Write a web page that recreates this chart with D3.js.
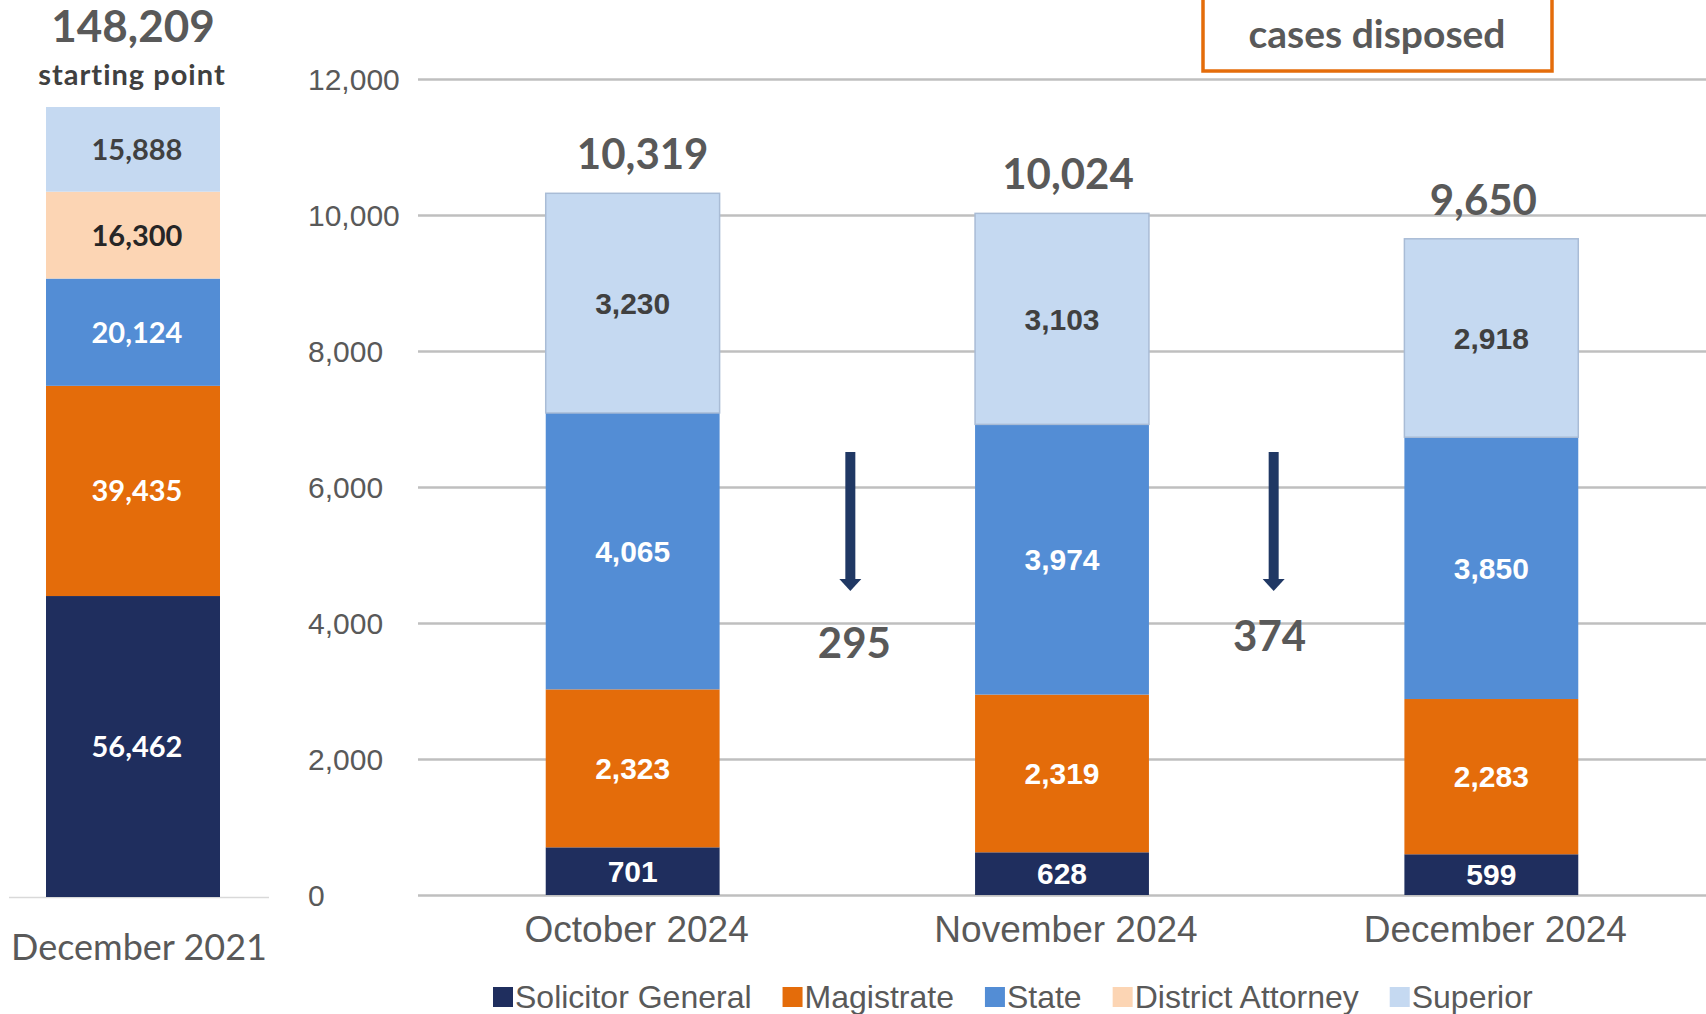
<!DOCTYPE html>
<html>
<head>
<meta charset="utf-8">
<script src="https://cdn.jsdelivr.net/npm/d3@7"></script>
<style>
    body { margin: 0; background: #fff; }
    svg { display: block; }
</style>
</head>
<body>
<svg width="1706" height="1014"></svg>
<script>
// Chart data
var months = ["October 2024", "November 2024", "December 2024"];
var seriesNames = ["Solicitor General", "Magistrate", "State", "District Attorney", "Superior"];
var seriesColors = ["#1F2E5E", "#E46C0A", "#538DD5", "#FCD5B4", "#C5D9F1"];
var labelColors = ["#ffffff", "#ffffff", "#ffffff", "#262626", "#404040"];
var solicitorGeneral = [701, 628, 599];
var magistrate = [2323, 2319, 2283];
var state = [4065, 3974, 3850];
var districtAttorney = [0, 0, 0];
var superior = [3230, 3103, 2918];
var startLabel = "December 2021";
var startValues = [56462, 39435, 20124, 16300, 15888];
var yTicks = [0, 2000, 4000, 6000, 8000, 10000, 12000];

var svg = d3.select("svg"),
    width = +svg.attr("width"),
    height = +svg.attr("height");

var grey = "#595959";
var calibriLike = "Lato, 'Open Sans', sans-serif";
var arialLike = "'Liberation Sans', Arial, sans-serif";
var fmt = d3.format(",");

// build table rows for the stack
var rows = months.map(function (m, i) {
    return {
        month: m,
        "Solicitor General": solicitorGeneral[i],
        "Magistrate": magistrate[i],
        "State": state[i],
        "District Attorney": districtAttorney[i],
        "Superior": superior[i]
    };
});
var stacked = d3.stack().keys(seriesNames)(rows);

// ---- main chart scales
var x = d3.scaleBand()
    .domain(months)
    .range([418, 1706])
    .paddingInner(0.595)
    .paddingOuter(0.2975);
var y = d3.scaleLinear().domain([0, 12000]).range([895, 79]);

// gridlines + tick labels
var axis = svg.append("g")
    .attr("transform", "translate(418,0)")
    .call(d3.axisRight(y).tickValues(yTicks).tickSize(1288).tickFormat(fmt));
axis.select(".domain").remove();
axis.selectAll("line").attr("stroke", "#BFBFBF").attr("stroke-width", 2.5);
axis.selectAll("text")
    .attr("x", 308 - 418)
    .attr("dy", "0.35em")
    .attr("text-anchor", "start")
    .attr("fill", grey)
    .attr("font-family", arialLike)
    .attr("font-size", "30px");

// stacked bars
var layers = svg.selectAll(".layer")
    .data(stacked)
    .enter()
    .append("g")
    .attr("class", "layer")
    .attr("fill", function (d, i) { return seriesColors[i]; });

layers.selectAll("rect")
    .data(function (d) { return d; })
    .enter()
    .append("rect")
    .attr("x", function (d) { return x(d.data.month); })
    .attr("width", x.bandwidth())
    .attr("y", function (d) { return y(d[1]); })
    .attr("height", function (d) { return y(d[0]) - y(d[1]); });

// thin outline on the top segment
layers.filter(function (d) { return d.key === "Superior"; })
    .selectAll("rect")
    .attr("stroke", "#A9BCD6")
    .attr("stroke-width", 1.5);

// segment labels
stacked.forEach(function (layer, si) {
    svg.append("g").selectAll("text")
        .data(layer.filter(function (d) { return d[1] - d[0] > 0; }))
        .enter()
        .append("text")
        .attr("x", function (d) { return x(d.data.month) + x.bandwidth() / 2; })
        .attr("y", function (d) { return (y(d[0]) + y(d[1])) / 2; })
        .attr("dy", "0.36em")
        .attr("text-anchor", "middle")
        .attr("font-family", arialLike)
        .attr("font-weight", "bold")
        .attr("font-size", "30px")
        .attr("fill", labelColors[si])
        .text(function (d) { return fmt(d[1] - d[0]); });
});

// totals above bars (slightly off-centre, as in the source)
var totals = rows.map(function (r) {
    return d3.sum(seriesNames, function (k) { return r[k]; });
});
var totalShift = [10, 6, -8];
svg.append("g").selectAll("text")
    .data(months)
    .enter()
    .append("text")
    .attr("x", function (d, i) { return x(d) + x.bandwidth() / 2 + totalShift[i]; })
    .attr("y", function (d, i) { return y(totals[i]) - 24; })
    .attr("text-anchor", "middle")
    .attr("font-family", calibriLike)
    .attr("font-weight", "bold")
    .attr("font-size", "42px")
    .attr("fill", grey)
    .text(function (d, i) { return fmt(totals[i]); });

// month labels
svg.append("g").selectAll("text")
    .data(months)
    .enter()
    .append("text")
    .attr("x", function (d) { return x(d) + x.bandwidth() / 2 + 4; })
    .attr("y", 942)
    .attr("text-anchor", "middle")
    .attr("font-family", arialLike)
    .attr("font-size", "37px")
    .attr("fill", grey)
    .text(function (d) { return d; });

// drop arrows between months
var drops = d3.range(1, months.length).map(function (i) {
    return { from: months[i - 1], to: months[i], value: totals[i - 1] - totals[i] };
});
var gapX = function (d) {
    return (x(d.from) + x.bandwidth() + x(d.to)) / 2;
};
var arrowShift = [3, -3];
var arrows = svg.append("g").selectAll("g")
    .data(drops)
    .enter()
    .append("g")
    .attr("transform", function (d, i) { return "translate(" + (gapX(d) + arrowShift[i]) + ",0)"; });
arrows.append("rect")
    .attr("x", -5).attr("y", 452)
    .attr("width", 10).attr("height", 128)
    .attr("fill", "#203864");
arrows.append("path")
    .attr("d", "M -11,579 L 11,579 L 0,591 Z")
    .attr("fill", "#203864");
arrows.append("text")
    .attr("x", function (d, i) { return i === 0 ? 4 : -4; })
    .attr("y", function (d, i) { return i === 0 ? 658 : 651; })
    .attr("text-anchor", "middle")
    .attr("font-family", calibriLike)
    .attr("font-weight", "bold")
    .attr("font-size", "42px")
    .attr("fill", grey)
    .text(function (d) { return fmt(d.value); });

// ---- starting point bar (separate scale)
var startTotal = d3.sum(startValues);
var xL = d3.scaleBand().domain([startLabel]).range([46, 220]);
var yL = d3.scaleLinear().domain([0, startTotal]).range([897, 107]);
var startStack = [];
var acc = 0;
startValues.forEach(function (v, i) {
    startStack.push({ key: seriesNames[i], y0: acc, y1: acc + v, value: v, i: i });
    acc += v;
});

svg.append("line")
    .attr("x1", 9).attr("x2", 269)
    .attr("y1", 897.5).attr("y2", 897.5)
    .attr("stroke", "#D9D9D9")
    .attr("stroke-width", 1.5);

svg.append("g").selectAll("rect")
    .data(startStack)
    .enter()
    .append("rect")
    .attr("x", xL(startLabel))
    .attr("width", xL.bandwidth())
    .attr("y", function (d) { return yL(d.y1); })
    .attr("height", function (d) { return yL(d.y0) - yL(d.y1); })
    .attr("fill", function (d) { return seriesColors[d.i]; });

svg.append("g").selectAll("text")
    .data(startStack)
    .enter()
    .append("text")
    .attr("x", xL(startLabel) + xL.bandwidth() / 2 + 4)
    .attr("y", function (d) { return (yL(d.y0) + yL(d.y1)) / 2; })
    .attr("dy", "0.36em")
    .attr("text-anchor", "middle")
    .attr("font-family", calibriLike)
    .attr("font-weight", "bold")
    .attr("font-size", "29px")
    .attr("fill", function (d) { return labelColors[d.i]; })
    .text(function (d) { return fmt(d.value); });

svg.append("text")
    .attr("x", 133).attr("y", 42)
    .attr("text-anchor", "middle")
    .attr("font-family", calibriLike)
    .attr("font-weight", "bold")
    .attr("font-size", "44px")
    .attr("fill", grey)
    .text(fmt(startTotal));

svg.append("text")
    .attr("x", 132).attr("y", 85)
    .attr("text-anchor", "middle")
    .attr("font-family", calibriLike)
    .attr("font-weight", "bold")
    .attr("font-size", "29px")
    .attr("letter-spacing", "1px")
    .attr("fill", "#404040")
    .text("starting point");

svg.append("text")
    .attr("x", 139).attr("y", 960)
    .attr("text-anchor", "middle")
    .attr("font-family", calibriLike)
    .attr("font-size", "36px")
    .attr("fill", grey)
    .text(startLabel);

// ---- callout box (top is cut off)
svg.append("rect")
    .attr("x", 1203).attr("y", -20)
    .attr("width", 349).attr("height", 91)
    .attr("fill", "#fff")
    .attr("stroke", "#E46C0A")
    .attr("stroke-width", 3.5);
svg.append("text")
    .attr("x", 1377).attr("y", 48)
    .attr("text-anchor", "middle")
    .attr("font-family", calibriLike)
    .attr("font-weight", "bold")
    .attr("font-size", "39px")
    .attr("fill", grey)
    .text("cases disposed");

// ---- legend
var legend = svg.append("g").attr("class", "legend");
var lx = 493;
seriesNames.forEach(function (name, i) {
    legend.append("rect")
        .attr("x", lx).attr("y", 987)
        .attr("width", 20).attr("height", 20)
        .attr("fill", seriesColors[i]);
    var t = legend.append("text")
        .attr("x", lx + 22).attr("y", 1008)
        .attr("font-family", arialLike)
        .attr("font-size", "32px")
        .attr("fill", grey)
        .text(name);
    lx += 22 + t.node().getComputedTextLength() + 31;
});
</script>
</body>
</html>
